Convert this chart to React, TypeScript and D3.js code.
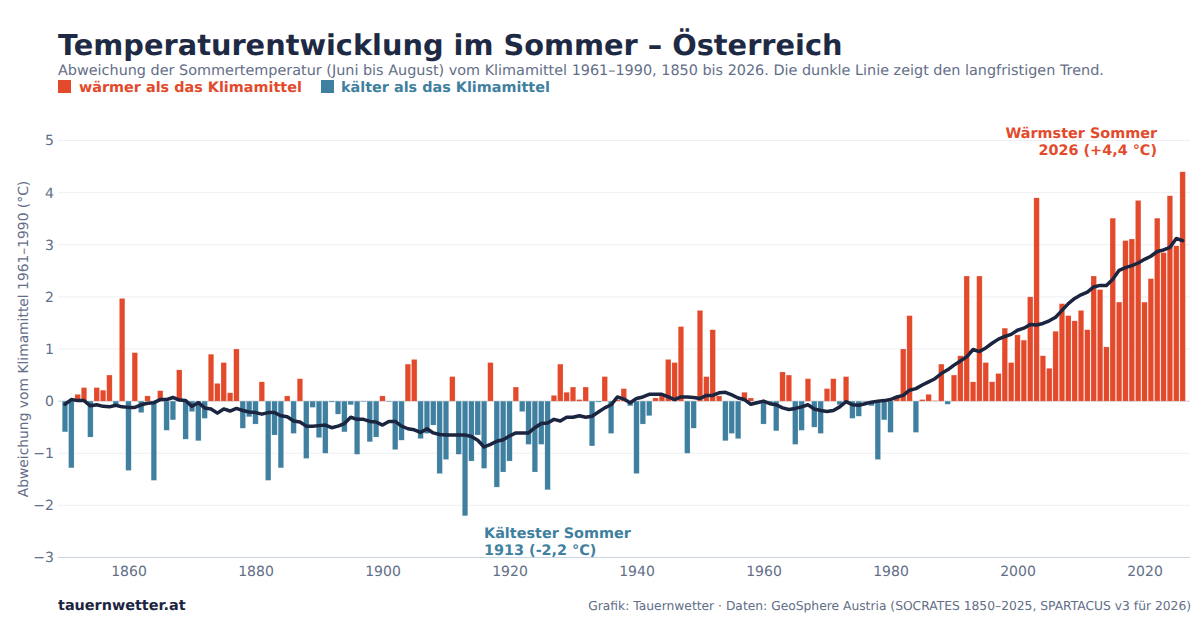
import React, { useEffect, useRef } from 'react';
import * as d3 from 'd3';

const firstYear = 1850;

// Abweichung vom Klimamittel, ein Wert pro Jahr ab 1850
const anomalies = [
  -0.59, -1.28, 0.13, 0.26, -0.69, 0.26, 0.21, 0.5, -0.07, 1.97,
  -1.33, 0.93, -0.22, 0.1, -1.52, 0.2, -0.56, -0.36, 0.6, -0.73,
  -0.2, -0.76, -0.33, 0.9, 0.34, 0.74, 0.16, 1.0, -0.52, -0.3,
  -0.44, 0.37, -1.52, -0.65, -1.28, 0.1, -0.62, 0.43, -1.1, -0.12,
  -0.7, -1.0, -0.02, -0.25, -0.59, -0.07, -1.02, -0.01, -0.78, -0.69,
  0.1, -0.01, -0.93, -0.75, 0.71, 0.8, -0.72, -0.62, -0.46, -1.39,
  -1.12, 0.47, -1.02, -2.2, -1.15, -0.65, -1.29, 0.74, -1.65, -1.36,
  -1.15, 0.27, -0.2, -0.83, -1.36, -0.83, -1.7, 0.11, 0.71, 0.17,
  0.27, 0.03, 0.27, -0.86, -0.02, 0.47, -0.62, 0.03, 0.24, -0.09,
  -1.39, -0.44, -0.28, 0.06, 0.1, 0.8, 0.74, 1.43, -1.0, -0.52,
  1.74, 0.47, 1.37, 0.1, -0.76, -0.62, -0.72, 0.17, 0.06, -0.01,
  -0.44, -0.05, -0.57, 0.56, 0.5, -0.83, -0.56, 0.43, -0.5, -0.62,
  0.24, 0.43, -0.07, 0.47, -0.33, -0.29, -0.01, -0.09, -1.12, -0.36,
  -0.6, 0.07, 1.0, 1.64, -0.6, 0.03, 0.13, 0.01, 0.71, -0.06,
  0.5, 0.87, 2.4, 0.37, 2.4, 0.74, 0.37, 0.53, 1.4, 0.74,
  1.27, 1.17, 2.0, 3.9, 0.87, 0.63, 1.34, 1.87, 1.64, 1.54,
  1.74, 1.37, 2.4, 2.14, 1.04, 3.51, 1.9, 3.08, 3.11, 3.85,
  1.9, 2.35, 3.51, 2.85, 3.94, 2.98, 4.4,
];

// langfristiger Trend
const trend = [
  -0.06, 0.03, 0.01, 0.01, -0.09, -0.07, -0.1, -0.11, -0.08, -0.11,
  -0.12, -0.12, -0.07, -0.04, -0.03, 0.03, 0.03, 0.07, 0.02, 0.01,
  -0.1, -0.03, -0.13, -0.15, -0.23, -0.15, -0.19, -0.14, -0.18, -0.21,
  -0.22, -0.25, -0.22, -0.22, -0.28, -0.3, -0.38, -0.4, -0.48, -0.48,
  -0.47, -0.46, -0.51, -0.48, -0.43, -0.31, -0.35, -0.35, -0.39, -0.4,
  -0.46, -0.39, -0.39, -0.48, -0.53, -0.55, -0.6, -0.53, -0.61, -0.64,
  -0.65, -0.65, -0.65, -0.65, -0.68, -0.75, -0.88, -0.83, -0.77, -0.74,
  -0.67, -0.61, -0.61, -0.61, -0.51, -0.43, -0.42, -0.35, -0.38, -0.31,
  -0.31, -0.28, -0.31, -0.29, -0.21, -0.13, -0.07, 0.08, 0.04, -0.03,
  0.05, 0.08, 0.13, 0.13, 0.13, 0.08, 0.03, 0.08, 0.08, 0.07,
  0.05, 0.11, 0.11, 0.16, 0.17, 0.12, 0.06, 0.03, -0.06, -0.03,
  0, -0.05, -0.07, -0.13, -0.16, -0.14, -0.11, -0.07, -0.15, -0.18,
  -0.2, -0.18, -0.11, -0.01, -0.07, -0.08, -0.05, -0.02, 0, 0.01,
  0.03, 0.08, 0.11, 0.21, 0.24, 0.31, 0.37, 0.43, 0.53, 0.6,
  0.69, 0.77, 0.85, 0.99, 0.95, 1.02, 1.11, 1.19, 1.24, 1.28,
  1.36, 1.4, 1.47, 1.46, 1.49, 1.54, 1.61, 1.74, 1.87, 1.97,
  2.04, 2.09, 2.19, 2.22, 2.22, 2.34, 2.51, 2.56, 2.6, 2.65,
  2.72, 2.78, 2.87, 2.9, 2.95, 3.12, 3.08,
];

const years = anomalies.map((_, i) => firstYear + i);
const yTicks = [-3, -2, -1, 0, 1, 2, 3, 4, 5];
const xTicks = [1860, 1880, 1900, 1920, 1940, 1960, 1980, 2000, 2020];

const WARM = '#E34A2B';
const COLD = '#3F7F9F';
const DARK = '#1B2540';
const GREY = '#636E87';
const FONT = '"DejaVu Sans", sans-serif';

const App: React.FC = () => {
  const svgRef = useRef<SVGSVGElement>(null);

  useEffect(() => {
    if (!svgRef.current) return;
    const svg = d3.select(svgRef.current);
    svg.selectAll('*').remove();

    const x = d3.scaleBand<number>().domain(years).range([61.8, 1185.8]).paddingInner(0.14).paddingOuter(0.07);
    const y = d3.scaleLinear().domain([-3, 5]).range([557.5, 140.5]);
    const cx = (d: number) => (x(d) as number) + x.bandwidth() / 2;

    // Gitter
    svg.append('g')
      .selectAll('line')
      .data(yTicks)
      .join('line')
      .attr('x1', 58)
      .attr('x2', 1190)
      .attr('y1', d => y(d))
      .attr('y2', d => y(d))
      .attr('stroke', d => (d === -3 ? '#CBD5E1' : d === 0 ? '#C9CED8' : '#EDEFF3'))
      .attr('stroke-width', 1);

    // Balken
    svg.append('g')
      .selectAll('rect')
      .data(years)
      .join('rect')
      .attr('x', d => x(d) as number)
      .attr('width', x.bandwidth())
      .attr('y', (_, i) => y(Math.max(anomalies[i], 0)))
      .attr('height', (_, i) => Math.abs(y(anomalies[i]) - y(0)))
      .attr('fill', (_, i) => (anomalies[i] >= 0 ? WARM : COLD))
      .attr('stroke', '#fff')
      .attr('stroke-opacity', 0.35)
      .attr('stroke-width', 0.5);

    // Trendlinie
    const line = d3.line<number>()
      .x((_, i) => cx(years[i]))
      .y(d => y(d));
    svg.append('path')
      .attr('d', line(trend))
      .attr('fill', 'none')
      .attr('stroke', DARK)
      .attr('stroke-width', 3.5)
      .attr('stroke-linejoin', 'round')
      .attr('stroke-linecap', 'round');

    // Achsen
    const yAxis = svg.append('g')
      .attr('transform', 'translate(58,0)')
      .call(d3.axisLeft(y).tickValues(yTicks).tickSize(0).tickPadding(4).tickFormat(d => d3.format('d')(d as number).replace('-', '−')));
    const xAxis = svg.append('g')
      .attr('transform', 'translate(0,557.5)')
      .call(d3.axisBottom(d3.scaleLinear().domain([1860, 2020]).range([cx(1860), cx(2020)])).tickValues(xTicks).tickSize(0).tickPadding(9).tickFormat(d => String(d)));
    [yAxis, xAxis].forEach(a => {
      a.select('.domain').remove();
      a.selectAll('text')
        .attr('fill', GREY)
        .style('font-family', FONT)
        .style('font-size', '14px')
        .style('text-rendering', 'geometricPrecision');
    });

    const addText = (t: string, tx: number, ty: number, size: number, fill: string, weight = 'normal', anchor = 'start') =>
      svg.append('text')
        .attr('x', tx)
        .attr('y', ty)
        .attr('fill', fill)
        .attr('text-anchor', anchor)
        .style('font-family', FONT)
        .style('font-size', `${size}px`)
        .style('font-weight', weight)
        .style('text-rendering', 'geometricPrecision')
        .text(t);

    addText('Temperaturentwicklung im Sommer – Österreich', 58, 54.5, 28.8, '#1E2A44', 'bold');
    addText('Abweichung der Sommertemperatur (Juni bis August) vom Klimamittel 1961–1990, 1850 bis 2026. Die dunkle Linie zeigt den langfristigen Trend.', 58, 75, 14.4, GREY);

    // Legende
    svg.append('rect').attr('x', 58).attr('y', 80).attr('width', 13).attr('height', 13).attr('fill', WARM);
    addText('wärmer als das Klimamittel', 79, 92, 14.4, WARM, 'bold');
    svg.append('rect').attr('x', 321).attr('y', 80).attr('width', 13).attr('height', 13).attr('fill', COLD);
    addText('kälter als das Klimamittel', 341, 92, 14.4, COLD, 'bold');

    // Y-Titel
    addText('Abweichung vom Klimamittel 1961–1990 (°C)', 0, 0, 13.85, GREY, 'normal', 'middle')
      .attr('transform', 'translate(28,339) rotate(-90)');

    // Anmerkungen
    addText('Wärmster Sommer', 1157, 138, 14.4, WARM, 'bold', 'end');
    addText('2026 (+4,4 °C)', 1157, 154.5, 14.4, WARM, 'bold', 'end');
    addText('Kältester Sommer', 484, 538, 14.4, COLD, 'bold');
    addText('1913 (-2,2 °C)', 484, 554.5, 14.4, COLD, 'bold');

    // Fusszeile
    addText('tauernwetter.at', 58, 610, 14.4, DARK, 'bold');
    addText('Grafik: Tauernwetter · Daten: GeoSphere Austria (SOCRATES 1850–2025, SPARTACUS v3 für 2026)', 1191, 610, 12.3, GREY, 'normal', 'end');
  }, []);

  return (
    <svg
      ref={svgRef}
      width={1200}
      height={630}
      style={{ position: 'absolute', left: 0, top: 0, background: '#fff', display: 'block' }}
    ></svg>
  );
};

export default App;
